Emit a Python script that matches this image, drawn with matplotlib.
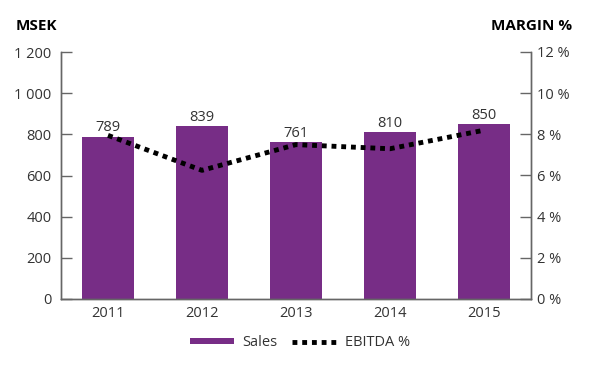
import matplotlib
matplotlib.use("Agg")
import matplotlib.pyplot as plt
import numpy as np

years = ["2011", "2012", "2013", "2014", "2015"]
sales = [789, 839, 761, 810, 850]
ebitda = [7.95, 6.25, 7.5, 7.3, 8.2]

left_ticks = [0, 200, 400, 600, 800, 1000, 1200]
left_labels = ["0", "200", "400", "600", "800", "1 000", "1 200"]
right_ticks = [0, 2, 4, 6, 8, 10, 12]
right_labels = ["0 %", "2 %", "4 %", "6 %", "8 %", "10 %", "12 %"]

purple = "#772d86"
grey = "#333333"
spine = "#666666"

plt.rcParams['font.family'] = ['Open Sans', 'DejaVu Sans']
fs = 10.5

fig = plt.figure(figsize=(6, 3.72), dpi=100)
ax = fig.add_axes([61 / 600, 1 - 299 / 372, 470 / 600, 247 / 372])
ax2 = ax.twinx()

x = np.arange(len(years))
bars = ax.bar(x, sales, width=0.55, color=purple, label="Sales", zorder=2)
for xi, v in zip(x, sales):
    ax.text(xi, v + 6, str(v), ha="center", va="bottom", fontsize=fs, color=grey)

ax2.plot(x, ebitda, color="black", linewidth=3.5, linestyle=(0, (1, 1)),
         label="EBITDA %", zorder=3)

ax.set_xlim(-0.5, len(years) - 0.5)
ax.set_ylim(0, 1200)
ax2.set_ylim(0, 12)
ax.set_xticks(x)
ax.set_xticklabels(years)
ax.set_yticks(left_ticks)
ax.set_yticklabels(left_labels)
ax2.set_yticks(right_ticks)
ax2.set_yticklabels(right_labels)

for a in (ax, ax2):
    a.spines["top"].set_visible(False)
    for s in ("left", "right", "bottom"):
        a.spines[s].set_color(spine)
        a.spines[s].set_linewidth(1)
    a.tick_params(axis="y", direction="in", length=8, width=1, color=spine,
                  labelsize=fs, labelcolor=grey)
ax.tick_params(axis="x", length=0, labelsize=fs, labelcolor=grey, pad=5)
ax.tick_params(axis="y", pad=7)
ax2.tick_params(axis="y", pad=4)

ax.set_zorder(ax2.get_zorder() - 1)
ax.patch.set_visible(False)
ax2.patch.set_visible(False)

fig.text(16 / 600, 1 - 26 / 372, "MSEK", fontsize=11, fontweight="bold",
         color="black", va="center", ha="left")
fig.text(572 / 600, 1 - 26 / 372, "MARGIN %", fontsize=11, fontweight="bold",
         color="black", va="center", ha="right")

h1, l1 = ax.get_legend_handles_labels()
h2, l2 = ax2.get_legend_handles_labels()
leg = fig.legend(h1 + h2, l1 + l2, loc="center", bbox_to_anchor=(0.5, 1 - 343 / 372),
                 ncol=2, frameon=False, fontsize=fs, handlelength=3,
                 handleheight=0.3, columnspacing=1.0, handletextpad=0.6)
for t in leg.get_texts():
    t.set_color(grey)

fig.savefig("out.png", dpi=100)
